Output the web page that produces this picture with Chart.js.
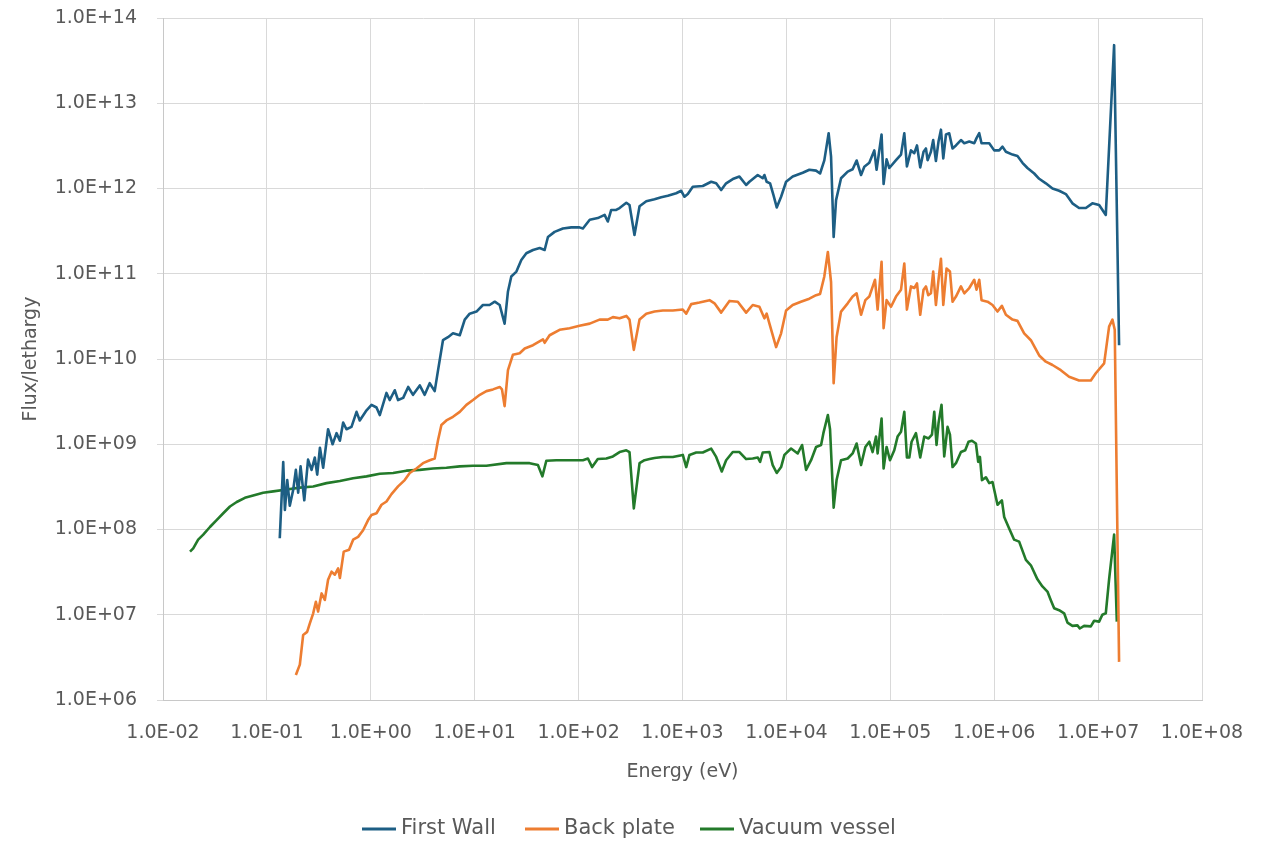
<!DOCTYPE html>
<html>
<head>
<meta charset="utf-8">
<script src="https://cdn.jsdelivr.net/npm/chart.js@4/dist/chart.umd.min.js"></script>
<style>
  html, body { margin: 0; padding: 0; background: #ffffff; }
  #chart { display: block; }
</style>
</head>
<body>
<canvas id="chart" width="1261" height="844"></canvas>
<script>
// [energy (eV), flux/lethargy]
const firstWall = [
  [0.133, 7.9e7], [0.1436, 6.2e8], [0.149, 1.7e8], [0.157, 3.8e8], [0.166, 1.9e8],
  [0.179, 2.9e8], [0.190, 5.0e8], [0.200, 2.7e8], [0.211, 5.5e8], [0.229, 2.2e8],
  [0.249, 6.6e8], [0.269, 5.0e8], [0.289, 7.0e8], [0.305, 4.4e8], [0.324, 9.1e8],
  [0.348, 5.3e8], [0.388, 1.5e9], [0.429, 1.0e9], [0.468, 1.35e9], [0.504, 1.1e9],
  [0.542, 1.8e9], [0.583, 1.5e9], [0.652, 1.6e9], [0.729, 2.4e9], [0.783, 1.9e9],
  [0.910, 2.5e9], [1.016, 2.9e9], [1.135, 2.7e9], [1.22, 2.2e9], [1.416, 4.0e9],
  [1.52, 3.3e9], [1.70, 4.3e9], [1.83, 3.3e9], [2.05, 3.5e9], [2.29, 4.7e9],
  [2.55, 3.8e9], [2.96, 4.9e9], [3.30, 3.8e9], [3.69, 5.2e9], [4.12, 4.2e9],
  [4.44, 7.4e9], [4.95, 1.66e10], [5.53, 1.8e10], [6.18, 2.0e10], [7.18, 1.9e10],
  [8.02, 2.9e10], [8.95, 3.4e10], [10.4, 3.6e10], [12.0, 4.3e10], [13.9, 4.3e10],
  [15.6, 4.7e10], [17.4, 4.3e10], [19.4, 2.6e10], [20.9, 6.2e10], [22.5, 9.3e10],
  [25.2, 1.06e11], [28.1, 1.45e11], [31.4, 1.74e11], [36.4, 1.9e11], [42.2, 2.0e11],
  [47.1, 1.9e11], [50.7, 2.7e11], [58.7, 3.1e11], [70.6, 3.4e11], [85.1, 3.5e11],
  [102, 3.5e11], [110, 3.4e11], [128, 4.3e11], [153, 4.5e11], [178, 4.9e11],
  [191, 4.1e11], [206, 5.6e11], [230, 5.6e11], [248, 5.9e11], [288, 6.8e11],
  [309, 6.4e11], [345, 2.85e11], [386, 6.2e11], [448, 7.1e11], [538, 7.5e11],
  [624, 7.9e11], [722, 8.2e11], [869, 8.8e11], [972, 9.4e11], [1045, 8.0e11],
  [1125, 8.6e11], [1256, 1.05e12], [1567, 1.07e12], [1888, 1.2e12], [2109, 1.15e12],
  [2356, 9.6e11], [2630, 1.15e12], [3048, 1.29e12], [3532, 1.38e12], [4098, 1.1e12],
  [4406, 1.2e12], [5297, 1.44e12], [5916, 1.32e12], [6139, 1.44e12], [6457, 1.2e12],
  [6966, 1.15e12], [7499, 8.4e11], [8072, 6.0e11], [8892, 8.0e11], [9931, 1.2e12],
  [11500, 1.38e12], [14360, 1.53e12], [16630, 1.66e12], [19300, 1.62e12], [21090, 1.5e12],
  [23170, 2.14e12], [25500, 4.45e12], [26900, 2.36e12], [28500, 2.7e11], [30060, 7.3e11],
  [33570, 1.32e12], [38900, 1.58e12], [43400, 1.68e12], [47400, 2.13e12], [52300, 1.44e12],
  [56230, 1.8e12], [62800, 2.0e12], [70150, 2.8e12], [73800, 1.66e12], [82400, 4.3e12],
  [86200, 1.13e12], [92100, 2.2e12], [97800, 1.74e12], [113500, 2.15e12], [126800, 2.5e12],
  [136400, 4.45e12], [144500, 1.82e12], [158100, 2.8e12], [170200, 2.6e12], [180700, 3.2e12],
  [194100, 1.77e12], [208900, 2.7e12], [220300, 2.95e12], [228500, 2.15e12], [246000, 2.7e12],
  [258800, 3.7e12], [274800, 2.1e12], [291100, 3.55e12], [307300, 4.9e12], [323600, 2.25e12],
  [343400, 4.3e12], [369000, 4.45e12], [397200, 2.95e12], [428500, 3.2e12], [478600, 3.7e12],
  [515200, 3.4e12], [575400, 3.55e12], [642700, 3.4e12], [676100, 3.9e12], [717800, 4.45e12],
  [755100, 3.4e12], [895400, 3.4e12], [1.0e6, 2.8e12], [1.117e6, 2.8e12], [1.202e6, 3.1e12],
  [1.296e6, 2.7e12], [1.5e6, 2.5e12], [1.675e6, 2.4e12], [1.871e6, 2.0e12], [2.089e6, 1.74e12],
  [2.427e6, 1.5e12], [2.71e6, 1.3e12], [3.141e6, 1.15e12], [3.639e6, 1.0e12], [4.217e6, 9.4e11],
  [4.894e6, 8.6e11], [5.662e6, 6.7e11], [6.561e6, 5.9e11], [7.621e6, 5.9e11], [8.81e6, 6.7e11],
  [1.023e7, 6.4e11], [1.186e7, 4.9e11], [1.426e7, 4.8e13], [1.592e7, 1.45e10]
];

const backPlate = [
  [0.190, 1.96e6], [0.2075, 2.6e6], [0.2234, 5.8e6], [0.244, 6.3e6], [0.259, 7.9e6],
  [0.279, 1.04e7], [0.296, 1.42e7], [0.311, 1.09e7], [0.336, 1.78e7], [0.361, 1.49e7],
  [0.388, 2.57e7], [0.419, 3.2e7], [0.451, 2.95e7], [0.485, 3.5e7], [0.504, 2.7e7],
  [0.549, 5.5e7], [0.618, 5.8e7], [0.676, 7.6e7], [0.755, 8.2e7], [0.843, 9.8e7],
  [0.942, 1.29e8], [1.016, 1.48e8], [1.135, 1.55e8], [1.268, 1.95e8], [1.416, 2.13e8],
  [1.581, 2.6e8], [1.83, 3.2e8], [2.12, 3.8e8], [2.37, 4.6e8], [2.75, 5.2e8],
  [3.18, 6.0e8], [3.69, 6.5e8], [4.12, 6.8e8], [4.44, 1.12e9], [4.78, 1.68e9],
  [5.34, 1.9e9], [6.18, 2.1e9], [7.18, 2.4e9], [8.32, 2.9e9], [9.63, 3.3e9],
  [11.2, 3.8e9], [12.96, 4.2e9], [15.0, 4.4e9], [17.4, 4.7e9], [18.3, 4.4e9],
  [19.4, 2.8e9], [20.9, 7.4e9], [23.3, 1.12e10], [27.1, 1.17e10], [30.3, 1.33e10],
  [36.4, 1.45e10], [45.4, 1.7e10], [47.1, 1.55e10], [52.6, 1.9e10], [65.6, 2.2e10],
  [81.9, 2.3e10], [102, 2.45e10], [128, 2.6e10], [159, 2.9e10], [191, 2.9e10],
  [214, 3.1e10], [248, 3.0e10], [288, 3.2e10], [309, 2.9e10], [340, 1.28e10],
  [386, 2.9e10], [448, 3.4e10], [538, 3.6e10], [647, 3.7e10], [807, 3.7e10],
  [1007, 3.8e10], [1086, 3.4e10], [1213, 4.4e10], [1456, 4.6e10], [1820, 4.9e10],
  [2032, 4.5e10], [2356, 3.5e10], [2831, 4.8e10], [3404, 4.7e10], [4098, 3.5e10],
  [4742, 4.3e10], [5495, 4.1e10], [6139, 3.0e10], [6457, 3.4e10], [6867, 2.6e10],
  [7963, 1.38e10], [8892, 2.0e10], [9931, 3.7e10], [11500, 4.3e10], [13800, 4.7e10],
  [16630, 5.1e10], [19300, 5.6e10], [21090, 5.8e10], [23170, 9.3e10], [25060, 1.8e11],
  [26900, 8.0e10], [28500, 5.2e9], [30410, 1.8e10], [33570, 3.6e10], [38900, 4.5e10],
  [43400, 5.4e10], [47400, 5.9e10], [52300, 3.3e10], [57540, 4.9e10], [62800, 5.4e10],
  [71290, 8.5e10], [75510, 3.8e10], [82400, 1.38e11], [86200, 2.3e10], [92100, 4.9e10],
  [101600, 4.1e10], [113500, 5.4e10], [126800, 6.5e10], [136400, 1.32e11], [144500, 3.8e10],
  [158100, 7.1e10], [170200, 6.8e10], [180700, 7.7e10], [194100, 3.3e10], [208900, 6.5e10],
  [220300, 7.1e10], [231800, 5.6e10], [246000, 5.9e10], [258800, 1.06e11], [274800, 4.3e10],
  [291100, 8.5e10], [307300, 1.5e11], [323600, 4.3e10], [347700, 1.15e11], [375100, 1.06e11],
  [397200, 4.7e10], [428500, 5.4e10], [478600, 7.1e10], [515200, 5.9e10], [575400, 6.8e10],
  [642700, 8.5e10], [676100, 6.5e10], [717800, 8.5e10], [755100, 4.9e10], [862600, 4.7e10],
  [963400, 4.3e10], [1.076e6, 3.6e10], [1.186e6, 4.2e10], [1.296e6, 3.3e10], [1.5e6, 2.9e10],
  [1.675e6, 2.8e10], [1.942e6, 2.0e10], [2.254e6, 1.66e10], [2.71e6, 1.1e10], [3.141e6, 9.3e9],
  [3.639e6, 8.5e9], [4.377e6, 7.4e9], [5.26e6, 6.2e9], [6.561e6, 5.6e9], [8.51e6, 5.6e9],
  [9.5e6, 6.8e9], [1.143e7, 8.9e9], [1.276e7, 2.4e10], [1.374e7, 2.9e10], [1.446e7, 2.2e10],
  [1.592e7, 2.8e6]
];

const vacuumVessel = [
  [0.0182, 5.5e7], [0.01954, 6.0e7], [0.0218, 7.6e7], [0.0244, 8.7e7], [0.0283, 1.07e8],
  [0.0328, 1.29e8], [0.0380, 1.55e8], [0.0441, 1.86e8], [0.0512, 2.1e8], [0.0614, 2.35e8],
  [0.0738, 2.5e8], [0.0920, 2.7e8], [0.115, 2.8e8], [0.155, 2.95e8], [0.2075, 3.1e8],
  [0.279, 3.2e8], [0.375, 3.5e8], [0.504, 3.7e8], [0.676, 4.0e8], [0.910, 4.2e8],
  [1.22, 4.5e8], [1.64, 4.6e8], [2.20, 4.9e8], [2.96, 5.0e8], [3.97, 5.2e8],
  [5.34, 5.3e8], [7.18, 5.5e8], [9.63, 5.6e8], [12.96, 5.6e8], [20.2, 6.0e8],
  [33.8, 6.0e8], [40.6, 5.7e8], [44.8, 4.2e8], [48.9, 6.4e8], [61.1, 6.5e8],
  [81.9, 6.5e8], [110, 6.5e8], [123, 6.8e8], [135, 5.4e8], [153, 6.7e8],
  [185, 6.8e8], [214, 7.2e8], [248, 8.1e8], [288, 8.5e8], [309, 8.1e8],
  [340, 1.77e8], [386, 6.0e8], [431, 6.5e8], [482, 6.7e8], [538, 6.9e8],
  [647, 7.1e8], [807, 7.1e8], [1007, 7.5e8], [1086, 5.4e8], [1167, 7.5e8],
  [1355, 8.0e8], [1567, 8.0e8], [1888, 8.9e8], [2109, 7.1e8], [2388, 4.8e8],
  [2630, 6.5e8], [3048, 8.1e8], [3532, 8.1e8], [4098, 6.7e8], [4742, 6.8e8],
  [5297, 7.0e8], [5585, 6.2e8], [5916, 8.0e8], [6867, 8.1e8], [7382, 5.7e8],
  [8072, 4.6e8], [8892, 5.4e8], [9570, 7.5e8], [11090, 8.9e8], [12850, 7.8e8],
  [14160, 9.8e8], [15460, 5.0e8], [17280, 6.5e8], [19300, 9.3e8], [21570, 9.8e8],
  [22700, 1.35e9], [25060, 2.2e9], [26300, 1.5e9], [28500, 1.8e8], [30410, 3.8e8],
  [33570, 6.5e8], [38900, 6.8e8], [43400, 7.8e8], [47400, 1.02e9], [52300, 5.7e8],
  [57540, 9.3e8], [62800, 1.07e9], [67600, 8.1e8], [72880, 1.23e9], [75510, 7.8e8],
  [82400, 2.0e9], [86200, 5.2e8], [92100, 9.3e8], [99300, 6.5e8], [109200, 8.5e8],
  [117500, 1.23e9], [126800, 1.4e9], [136400, 2.4e9], [144500, 7.0e8], [152400, 7.0e8],
  [160300, 1.07e9], [176600, 1.35e9], [194100, 7.0e8], [212300, 1.23e9], [233500, 1.17e9],
  [251800, 1.3e9], [264900, 2.4e9], [278700, 9.8e8], [291100, 1.76e9], [311200, 2.9e9],
  [330400, 7.2e8], [355600, 1.6e9], [375100, 1.3e9], [397200, 5.4e8], [428500, 6.0e8],
  [478600, 8.1e8], [526000, 8.5e8], [566200, 1.07e9], [610900, 1.1e9], [666800, 1.02e9],
  [701500, 6.2e8], [728800, 7.1e8], [762100, 3.8e8], [831800, 4.1e8], [895400, 3.5e8],
  [963400, 3.6e8], [1.076e6, 1.95e8], [1.186e6, 2.2e8], [1.248e6, 1.4e8], [1.393e6, 1.03e8],
  [1.556e6, 7.6e7], [1.738e6, 7.2e7], [2.018e6, 4.4e7], [2.254e6, 3.8e7], [2.607e6, 2.6e7],
  [2.911e6, 2.15e7], [3.254e6, 1.87e7], [3.508e6, 1.48e7], [3.776e6, 1.19e7], [4.217e6, 1.13e7],
  [4.71e6, 1.04e7], [5.07e6, 8.1e6], [5.662e6, 7.4e6], [6.324e6, 7.5e6], [6.668e6, 6.9e6],
  [7.33e6, 7.4e6], [8.51e6, 7.3e6], [9.16e6, 8.5e6], [1.023e7, 8.3e6], [1.099e7, 1.0e7],
  [1.186e7, 1.04e7], [1.276e7, 2.6e7], [1.426e7, 8.7e7], [1.514e7, 8.3e6]
];

const seriesNames = ["First Wall", "Back plate", "Vacuum vessel"];
const seriesColors = ["#1d5e84", "#ed7d31", "#237a2a"];

const xTickValues = [1e-2, 1e-1, 1e0, 1e1, 1e2, 1e3, 1e4, 1e5, 1e6, 1e7, 1e8];
const xTickLabels = ["1.0E-02", "1.0E-01", "1.0E+00", "1.0E+01", "1.0E+02", "1.0E+03",
  "1.0E+04", "1.0E+05", "1.0E+06", "1.0E+07", "1.0E+08"];
const yTickValues = [1e6, 1e7, 1e8, 1e9, 1e10, 1e11, 1e12, 1e13, 1e14];
const yTickLabels = ["1.0E+06", "1.0E+07", "1.0E+08", "1.0E+09", "1.0E+10", "1.0E+11",
  "1.0E+12", "1.0E+13", "1.0E+14"];

const gridColor = "#d9d9d9";
const textColor = "#595959";

function toPoints(rows) {
  return rows.map(r => ({ x: r[0], y: r[1] }));
}

// legend drawn on the canvas below the axis title, like the Excel one
const bottomLegend = {
  id: "bottomLegend",
  afterDraw(chart) {
    const ctx = chart.ctx;
    const y = 829;
    const lineStarts = [362, 525, 700];
    ctx.save();
    ctx.font = "21px 'DejaVu Sans'";
    ctx.textBaseline = "middle";
    ctx.fillStyle = textColor;
    chart.data.datasets.forEach((ds, i) => {
      const x0 = lineStarts[i];
      ctx.strokeStyle = ds.borderColor;
      ctx.lineWidth = 3;
      ctx.beginPath();
      ctx.moveTo(x0, y);
      ctx.lineTo(x0 + 34, y);
      ctx.stroke();
      ctx.fillText(ds.label, x0 + 39, y);
    });
    ctx.restore();
  }
};

const datasets = [firstWall, backPlate, vacuumVessel].map((rows, i) => ({
  label: seriesNames[i],
  data: toPoints(rows),
  borderColor: seriesColors[i],
  backgroundColor: seriesColors[i],
  borderWidth: 2.6,
  pointRadius: 0,
  tension: 0,
  borderJoinStyle: "round",
  fill: false
}));

new Chart(document.getElementById("chart"), {
  type: "line",
  data: { datasets },
  plugins: [bottomLegend],
  options: {
    responsive: false,
    animation: false,
    devicePixelRatio: 1,
    layout: { padding: { left: 0, right: 59, top: 18, bottom: 0 } },
    plugins: {
      legend: { display: false },
      tooltip: { enabled: false }
    },
    scales: {
      x: {
        type: "logarithmic",
        min: 1e-2,
        max: 1e8,
        afterBuildTicks: s => { s.ticks = xTickValues.map(v => ({ value: v })); },
        afterFit: s => {
          s.height = 144;
          s.paddingLeft = 0;
          s.paddingRight = 0;
        },
        ticks: {
          autoSkip: false,
          maxRotation: 0,
          padding: 22,
          color: textColor,
          font: { family: "'DejaVu Sans'", size: 19 },
          callback: (v, i) => xTickLabels[i]
        },
        grid: { color: gridColor, lineWidth: 1, drawTicks: false },
        border: { color: "#c8c8c8" },
        title: {
          display: true,
          text: "Energy (eV)",
          color: textColor,
          font: { family: "'DejaVu Sans'", size: 19 },
          padding: { top: 0, bottom: 61 }
        }
      },
      y: {
        type: "logarithmic",
        min: 1e6,
        max: 1e14,
        afterBuildTicks: s => { s.ticks = yTickValues.map(v => ({ value: v })); },
        afterFit: s => {
          s.width = 163;
          s.paddingTop = 0;
          s.paddingBottom = 0;
        },
        ticks: {
          autoSkip: false,
          padding: 20,
          color: textColor,
          font: { family: "'DejaVu Sans'", size: 19 },
          callback: (v, i) => yTickLabels[i]
        },
        grid: { color: gridColor, lineWidth: 1, tickLength: 6 },
        border: { color: "#c8c8c8" },
        title: {
          display: true,
          text: "Flux/lethargy",
          color: textColor,
          font: { family: "'DejaVu Sans'", size: 19 },
          padding: { top: 20, bottom: 0 }
        }
      }
    }
  }
});
</script>
</body>
</html>
